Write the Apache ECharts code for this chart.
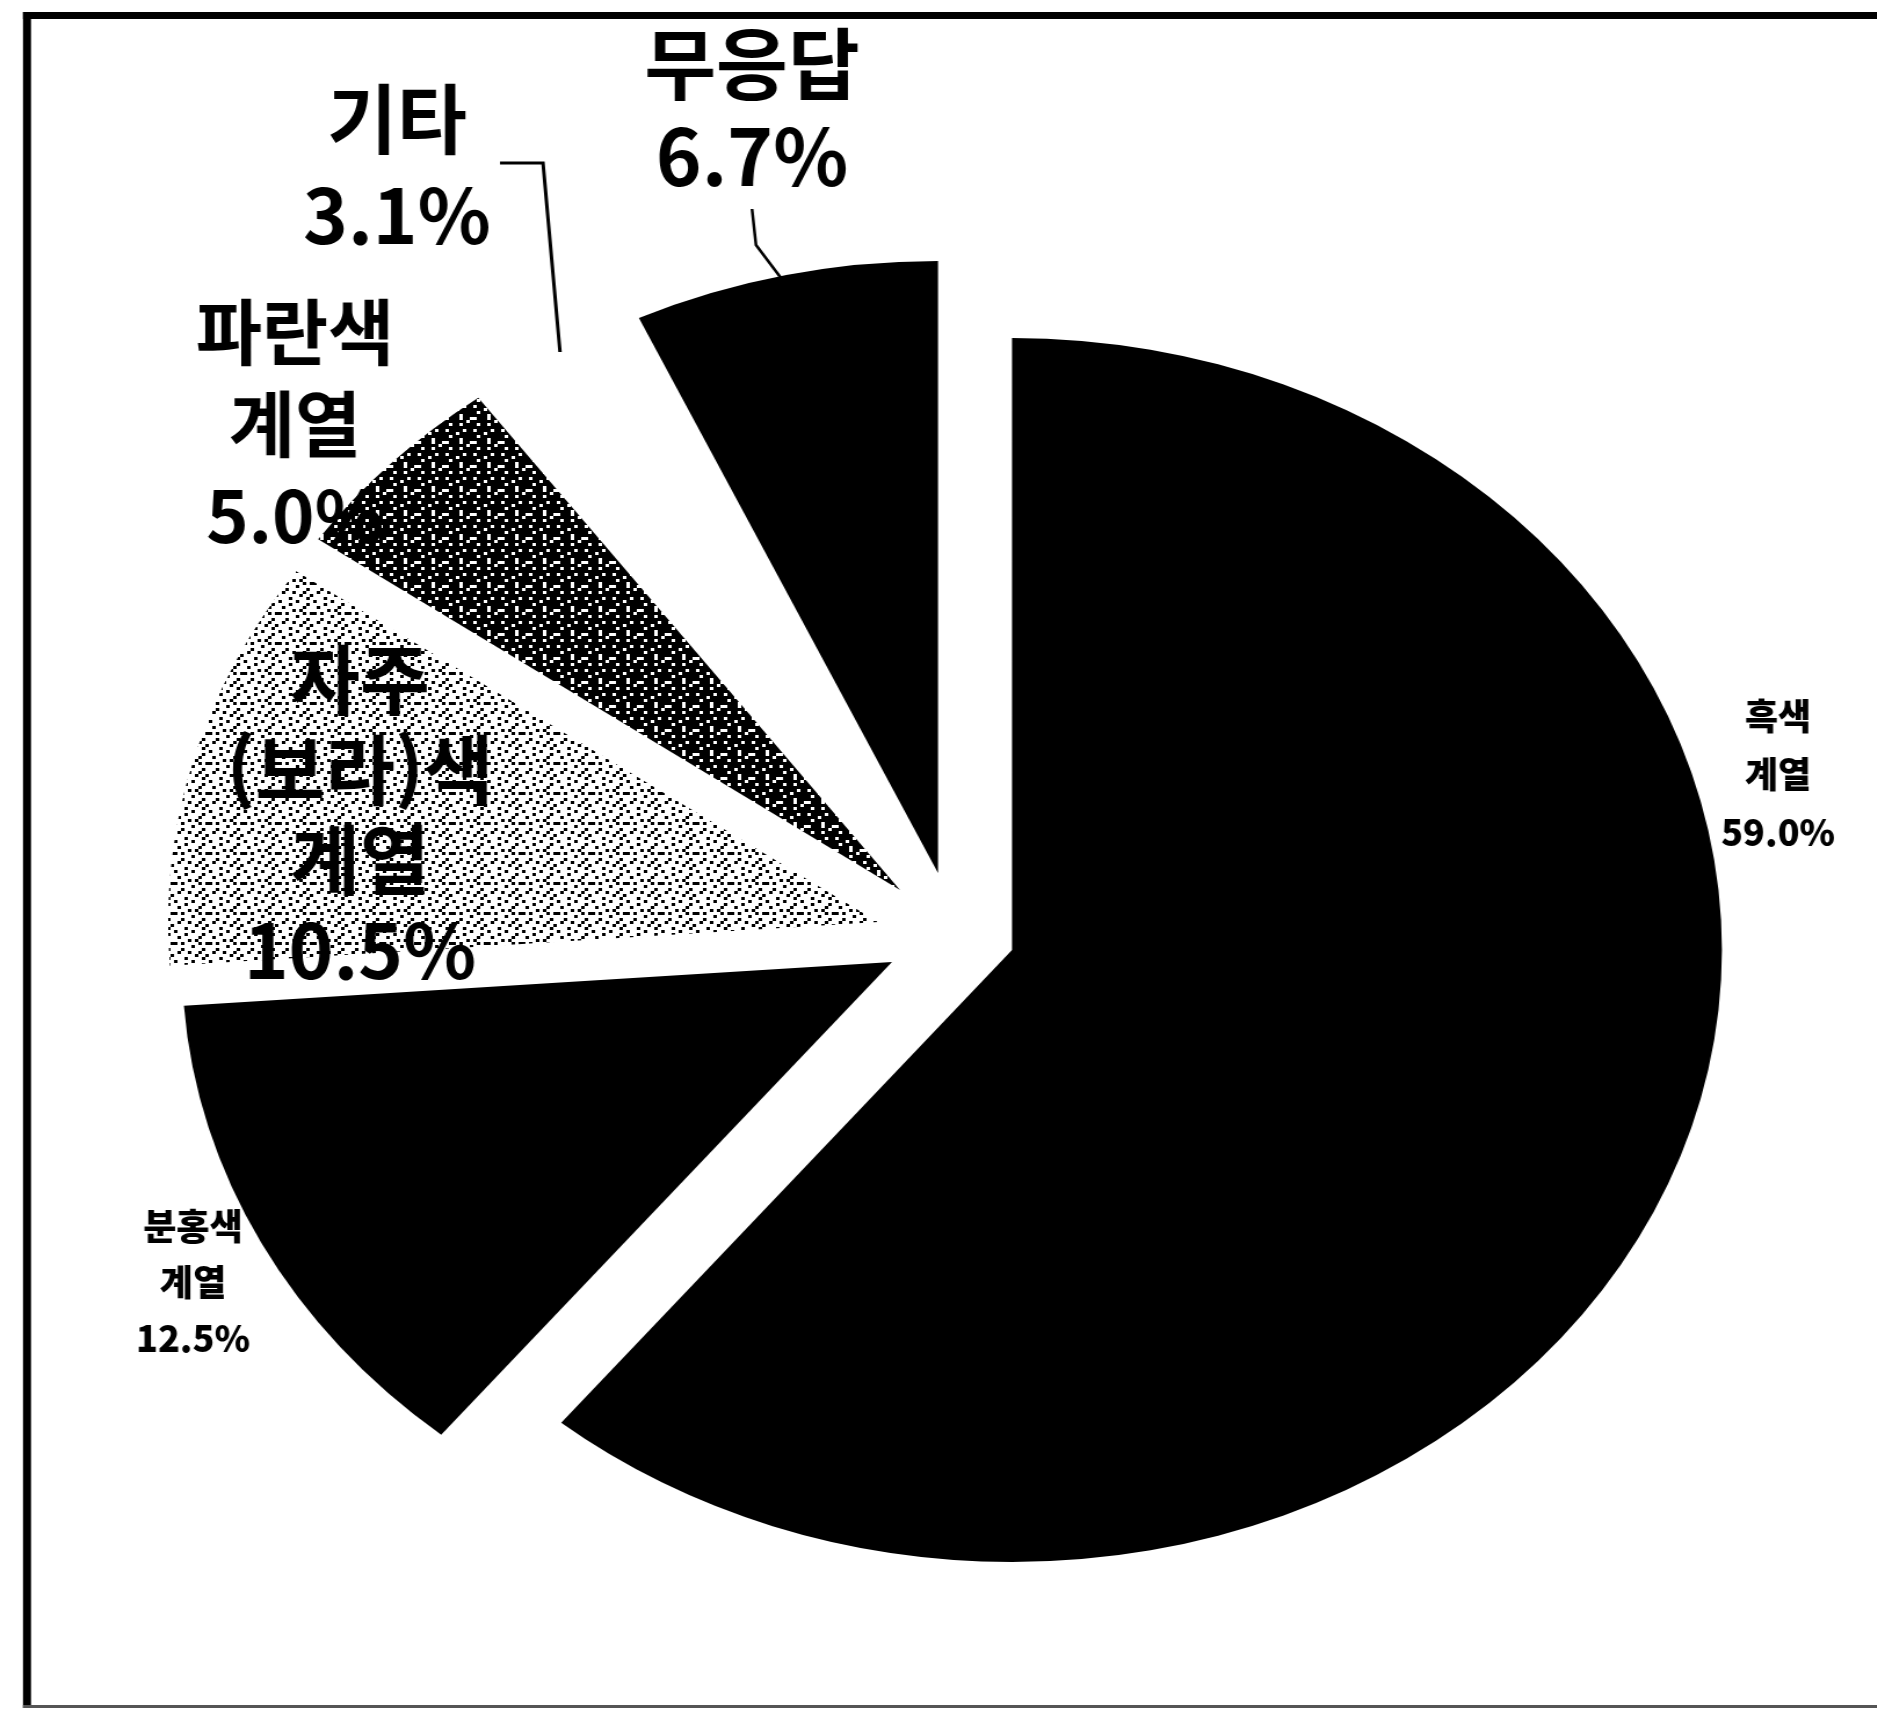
<!DOCTYPE html>
<html lang="ko">
<head>
<meta charset="utf-8">
<title>색상 계열 선호도</title>
<script src="https://cdn.jsdelivr.net/npm/echarts@6/dist/echarts.min.js"></script>
<style>
  html, body { margin: 0; padding: 0; background: #fff; overflow: hidden; }
  /* the pie is drawn circular and widened into an ellipse */
  #chart { position: absolute; left: 0; top: 0; width: 1618px; height: 1711px;
           transform: scaleX(1.16); transform-origin: 0 0; }
</style>
</head>
<body>
<div id="chart"></div>
<script>
// ---- data ----
const categories = ['흑색 계열', '분홍색 계열', '자주(보라)색 계열', '파란색 계열', '기타', '무응답'];
const values = [59.0, 12.5, 10.5, 5.0, 3.1, 6.7];
const labelNames = ['흑색\n계열', '분홍색\n계열', '자주\n(보라)색\n계열', '파란색\n계열', '기타', '무응답'];

// ---- layout / style ----
const SX = 1.16;                       // horizontal stretch of the container
const RADIUS = 612;
// exploded position of each slice's tip (chart px, before stretch)
const sliceCenters = [
  [1012 / SX, 950], [892 / SX, 962], [878 / SX, 922],
  [900 / SX, 890], [905 / SX, 880], [938 / SX, 873]
];

function makeTile(rows, cell) {
  const c = document.createElement('canvas');
  c.width = rows[0].length * cell;
  c.height = rows.length * cell;
  const ctx = c.getContext('2d');
  ctx.fillStyle = '#000';
  rows.forEach((r, y) => {
    [...r].forEach((ch, x) => { if (ch === '#') ctx.fillRect(x * cell, y * cell, cell, cell); });
  });
  return c;
}
const lightDots = makeTile([
  '#....#....',
  '...#....#.',
  '.#.....#..',
  '....#.#...',
  '#.#....#.#',
  '.....#....',
  '..#.....#.',
  '.#..#..#..',
  '......#..#',
  '...#....#.'
], 3);
const darkDots = makeTile([
  '###.####',
  '#.######',
  '####.###',
  '.###.##.',
  '######.#',
  '#.##.###',
  '########',
  '.####.##'
], 3);

const fills = [
  '#000000',
  '#000000',
  { image: lightDots, repeat: 'repeat' },
  { image: darkDots, repeat: 'repeat' },
  'rgba(0,0,0,0)',
  '#000000'
];

// one pie per slice so every slice can be pulled out on its own
const series = categories.map((_, k) => ({
  type: 'pie',
  silent: true,
  animation: false,
  center: sliceCenters[k],
  radius: RADIUS,
  startAngle: 90,
  clockwise: true,
  label: { show: false },
  labelLine: { show: false },
  z: 2,
  data: categories.map((name, i) => ({
    name,
    value: values[i],
    itemStyle: { color: i === k ? fills[i] : 'rgba(0,0,0,0)', borderWidth: 0 }
  }))
}));

// label blocks: [x, center y, font size, line height, weight]
const labelSpots = [
  [1778 / SX, 774, 36, 58, 900],
  [193 / SX, 1282, 36, 56, 900],
  [360 / SX, 815, 76, 90, 'bold'],
  [295 / SX, 424, 72, 92, 'bold'],
  [397 / SX, 167, 76, 96, 'bold'],
  [752 / SX, 110, 78, 92, 'bold']
];

const texts = categories.map((_, i) => ({
  type: 'text',
  x: labelSpots[i][0],
  y: labelSpots[i][1],
  scaleX: 1 / SX,
  z: 0,
  silent: true,
  style: {
    text: labelNames[i] + '\n' + values[i].toFixed(1) + '%',
    x: 0, y: 0,
    fill: '#000',
    fontFamily: '"Noto Sans CJK KR", "Noto Sans", sans-serif',
    fontWeight: labelSpots[i][4],
    fontSize: labelSpots[i][2],
    lineHeight: labelSpots[i][3],
    align: 'center', verticalAlign: 'middle',
    textAlign: 'center', textVerticalAlign: 'middle'
  }
}));

const leaders = [
  { type: 'polyline', z: 3, silent: true,
    shape: { points: [[500 / SX, 163], [543 / SX, 163], [560 / SX, 352]] },
    style: { stroke: '#000', lineWidth: 3, fill: null } },
  { type: 'polyline', z: 3, silent: true,
    shape: { points: [[752 / SX, 209], [756 / SX, 245], [784 / SX, 282]] },
    style: { stroke: '#000', lineWidth: 2.5, fill: null } }
];

const frame = [
  { type: 'rect', z: 5, silent: true, shape: { x: 23 / SX, y: 12, width: 1700, height: 7 }, style: { fill: '#000' } },
  { type: 'rect', z: 5, silent: true, shape: { x: 23 / SX, y: 12, width: 8 / SX, height: 1696 }, style: { fill: '#000' } },
  { type: 'rect', z: 5, silent: true, shape: { x: 23 / SX, y: 1705, width: 1700, height: 3 }, style: { fill: '#555' } }
];

const chart = echarts.init(document.getElementById('chart'), null, { renderer: 'canvas' });
chart.setOption({
  backgroundColor: '#fff',
  animation: false,
  graphic: { elements: texts.concat(leaders, frame) },
  series
});
</script>
</body>
</html>
